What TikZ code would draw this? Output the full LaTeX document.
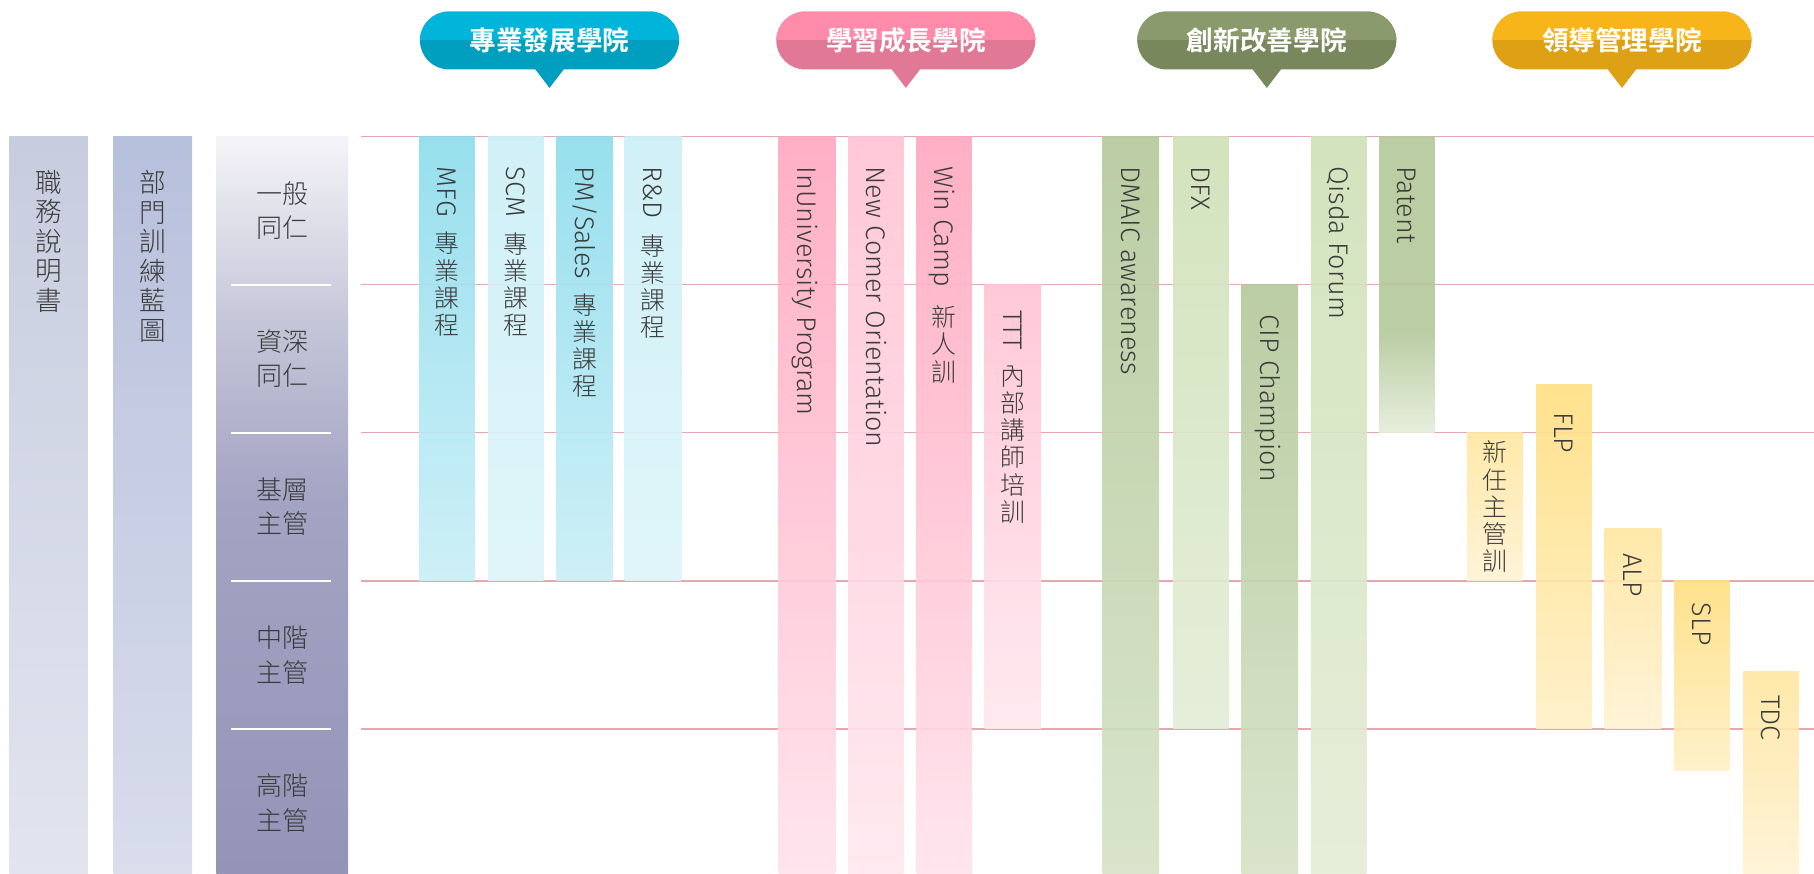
\documentclass[tikz,border=0pt]{standalone}
\usepackage{fontspec}
\setmainfont{Fira Sans}
\newfontfamily\barfont{Fira Sans Light}
\newfontfamily\cjkfont{Noto Sans CJK TC}[UprightFont=* Light, BoldFont=* Bold]
\newfontfamily\cjkbub{Noto Sans CJK TC}[UprightFont=* Bold]
\definecolor{txt}{HTML}{3B3B3B}
\definecolor{linepink}{HTML}{E5A8AE}
\definecolor{cAt}{HTML}{C7CDDF}\definecolor{cAb}{HTML}{E2E5EF}
\definecolor{cBt}{HTML}{B7C0DC}\definecolor{cBb}{HTML}{D9DDEC}
\definecolor{lvT}{HTML}{F4F4F8}\definecolor{lvN}{HTML}{C4C4D8}
\definecolor{lvM}{HTML}{A3A3C3}\definecolor{lvB}{HTML}{9494B8}
\definecolor{cyDt}{HTML}{8DDCEC}\definecolor{cyDb}{HTML}{C9EFF7}
\definecolor{cyLt}{HTML}{CBEFF7}\definecolor{cyLb}{HTML}{DDF5FA}
\definecolor{piDt}{HTML}{FFA7BF}\definecolor{piDb}{HTML}{FFE3EC}
\definecolor{piLt}{HTML}{FFC3D5}\definecolor{piLb}{HTML}{FFE8EF}
\definecolor{grDt}{HTML}{B4C89A}\definecolor{grDb}{HTML}{D5E2C6}
\definecolor{grLt}{HTML}{CFE1B7}\definecolor{grLb}{HTML}{E3EDD6}
\definecolor{patB}{HTML}{E5EDDA}
\definecolor{yeDt}{HTML}{FFDF80}\definecolor{yeDb}{HTML}{FFF0C6}
\definecolor{yeLt}{HTML}{FFE6A0}\definecolor{yeLb}{HTML}{FFF3D4}
\definecolor{buUp}{HTML}{00B5D9}\definecolor{buLo}{HTML}{009FC0}
\definecolor{pkUp}{HTML}{FF8BAB}\definecolor{pkLo}{HTML}{E07896}
\definecolor{gnUp}{HTML}{8A9A6C}\definecolor{gnLo}{HTML}{78875C}
\definecolor{ywUp}{HTML}{F8B51A}\definecolor{ywLo}{HTML}{DEA015}
\pgfdeclareverticalshading{lvlshade}{100bp}{color(0bp)=(lvB); color(25bp)=(lvB); color(50bp)=(lvM); color(62bp)=(lvN); color(75bp)=(lvT); color(100bp)=(lvT)}
\pgfdeclareverticalshading{patshade}{100bp}{color(0bp)=(patB); color(25bp)=(patB); color(42bp)=(grDt); color(75bp)=(grDt); color(100bp)=(grDt)}
\newcommand\mybar[6]{\shade[top color=#5, bottom color=#6, fill opacity=0.9] (#1,#2) rectangle (#3,#4);}
\newcommand\mybubble[5]{%
  \begin{scope}
    \clip[rounded corners=25pt] (#2-112,10) rectangle (#2+112,60);
    \fill[#4] (#2-113,9) rectangle (#2+113,61);
    \fill[#3] (#2-113,9) rectangle (#2+113,35);
  \end{scope}
  \fill[#4] (#2-13,59) -- (#2+13,59) -- (#2,76) -- cycle;
  \node[bubtext] (#1) at (#2,35) {#5};
}
\begin{document}
\begin{tikzpicture}[x=1pt,y=-1pt,
  hline/.style={draw=linepink, line width=1.3pt},
  sepline/.style={draw=white, line width=1.6pt},
  barlabel/.style={font=\barfont\fontsize{23.3}{25}\selectfont, text=txt, rotate=-90, anchor=west, inner sep=0pt, text height=16pt, text depth=0pt},
  barcjk/.style={font=\cjkfont\fontsize{21.5}{23.5}\selectfont, text=txt, anchor=north, align=center, inner sep=0pt},
  leftcjk/.style={font=\cjkfont\fontsize{23}{25.5}\selectfont, text=txt, anchor=north, align=center, inner sep=0pt},
  lvltext/.style={font=\cjkfont\fontsize{22.5}{30}\selectfont, text=txt, align=center, inner sep=0pt},
  bubtext/.style={font=\cjkbub\fontsize{23}{25}\selectfont, text=white, inner sep=0pt}]
\useasboundingbox (0,0) rectangle (1568,755);
\fill[white] (0,0) rectangle (1568,755);
% left columns
\shade[top color=cAt, bottom color=cAb] (8,118) rectangle (76,755);
\shade[top color=cBt, bottom color=cBb] (98,118) rectangle (166,755);
\shade[shading=lvlshade] (187,118) rectangle (301,755);
\foreach \yy in {246,374,502,630} {\draw[sepline] (200,\yy) -- (286,\yy);}
\node[leftcjk] (jd) at (42,147) {職\\務\\說\\明\\書};
\node[leftcjk] (bp) at (132,147) {部\\門\\訓\\練\\藍\\圖};
\node[lvltext] (lv1) at (244,182) {一般\\同仁};
\node[lvltext] (lv2) at (244,310) {資深\\同仁};
\node[lvltext] (lv3) at (244,438) {基層\\主管};
\node[lvltext] (lv4) at (244,566) {中階\\主管};
\node[lvltext] (lv5) at (244,694) {高階\\主管};
% horizontal lines
\foreach \yy in {118,246,374,502,630} {\draw[hline] (312,\yy) -- (1568,\yy);}
% bubbles
\mybubble{acA}{475}{buUp}{buLo}{專業發展學院}
\mybubble{acB}{783}{pkUp}{pkLo}{學習成長學院}
\mybubble{acC}{1095}{gnUp}{gnLo}{創新改善學院}
\mybubble{acD}{1402}{ywUp}{ywLo}{領導管理學院}
% bars
\mybar{362}{118}{410}{502}{cyDt}{cyDb}
\mybar{422}{118}{470}{502}{cyLt}{cyLb}
\mybar{481}{118}{530}{502}{cyDt}{cyDb}
\mybar{540}{118}{589}{502}{cyLt}{cyLb}
\mybar{673}{118}{722}{755}{piDt}{piDb}
\mybar{733}{118}{781}{755}{piLt}{piLb}
\mybar{792}{118}{840}{755}{piDt}{piDb}
\mybar{851}{246}{900}{630}{piLt}{piLb}
\mybar{953}{118}{1002}{755}{grDt}{grDb}
\mybar{1014}{118}{1062}{630}{grLt}{grLb}
\mybar{1073}{246}{1122}{755}{grDt}{grDb}
\mybar{1133}{118}{1181}{755}{grLt}{grLb}
\shade[shading=patshade, fill opacity=0.9] (1192,118) rectangle (1240,374);
\mybar{1268}{374}{1316}{502}{yeLt}{yeLb}
\mybar{1328}{332}{1376}{630}{yeDt}{yeDb}
\mybar{1387}{457}{1436}{630}{yeLt}{yeLb}
\mybar{1447}{502}{1495}{666}{yeDt}{yeDb}
\mybar{1507}{580}{1555}{755}{yeLt}{yeLb}
% bar texts
\node[barlabel] (tMFG) at (386,144) {MFG};
\node[barcjk] (cMFG) at ([yshift=-13pt]tMFG.east) {專\\業\\課\\程};
\node[barlabel] (tSCM) at (446,144) {SCM};
\node[barcjk] (cSCM) at ([yshift=-13pt]tSCM.east) {專\\業\\課\\程};
\node[barlabel] (tPM) at (505.5,144) {PM/Sales};
\node[barcjk] (cPM) at ([yshift=-12pt]tPM.east) {專\\業\\課\\程};
\node[barlabel] (tRD) at (564.5,144) {R\&D};
\node[barcjk] (cRD) at ([yshift=-13pt]tRD.east) {專\\業\\課\\程};
\node[barlabel] (tInU) at (697.5,144) {InUniversity Program};
\node[barlabel] (tNew) at (757,144) {New Comer Orientation};
\node[barlabel] (tWin) at (816,144) {Win Camp};
\node[barcjk] (cWin) at ([yshift=-16pt]tWin.east) {新\\人\\訓};
\node[barlabel] (tTTT) at (875.5,268) {TTT};
\node[barcjk] (cTTT) at ([yshift=-13pt]tTTT.east) {內\\部\\講\\師\\培\\訓};
\node[barlabel] (tDMAIC) at (977.5,144) {DMAIC awareness};
\node[barlabel] (tDFX) at (1038,144) {DFX};
\node[barlabel] (tCIP) at (1097.5,272) {CIP Champion};
\node[barlabel] (tQisda) at (1157,144) {Qisda Forum};
\node[barlabel] (tPat) at (1216,144) {Patent};
\node[barcjk] (cNew) at (1292,381) {新\\任\\主\\管\\訓};
\node[barlabel] (tFLP) at (1352,356) {FLP};
\node[barlabel] (tALP) at (1411.5,478) {ALP};
\node[barlabel] (tSLP) at (1471,521) {SLP};
\node[barlabel] (tTDC) at (1531,601) {TDC};
\end{tikzpicture}
\end{document}
